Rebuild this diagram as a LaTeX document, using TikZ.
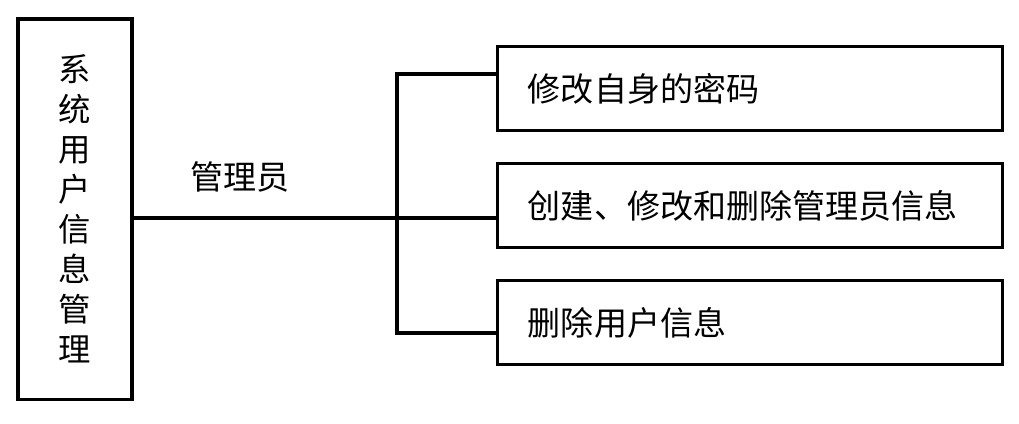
\documentclass[tikz,border=0pt]{standalone}
\usepackage{fontspec}
\setmainfont{Noto Sans CJK SC}
\usetikzlibrary{positioning}

\begin{document}
\begin{tikzpicture}[x=0.025cm, y=-0.025cm, line width=2.2pt]

% Styles
\tikzstyle{block} = [draw, rectangle, minimum height=2.1cm, minimum width=12.6cm, text width=11.1cm, align=left, font=\fontsize{23.5}{27}\selectfont]
\tikzstyle{tall}  = [draw, rectangle, minimum height=9.5cm, minimum width=2.85cm, align=center, font=\fontsize{23}{28.4}\selectfont]

\useasboundingbox (0,0) rectangle (1019,423);

% Nodes
\node [tall] (sys) at (75,209) {系\\统\\用\\户\\信\\息\\管\\理};
\node [block] (pwd) at (750,88.5) {修改自身的密码};
\node [block, below=0.75cm of pwd] (admin) {创建、修改和删除管理员信息};
\node [block, below=0.75cm of admin] (deluser) {删除用户信息};
\node [font=\fontsize{23.5}{27}\selectfont] (role) at (240,177) {管理员};

% Branch coordinates
\coordinate (j) at (397,218);
\coordinate (top) at (397,74);
\coordinate (bot) at (397,333);

% Connectors
\draw (sys.east |- j) -- (j) -- (admin.west |- j);
\draw (pwd.west |- top) -- (top) -- (bot) -- (deluser.west |- bot);

\end{tikzpicture}
\end{document}
